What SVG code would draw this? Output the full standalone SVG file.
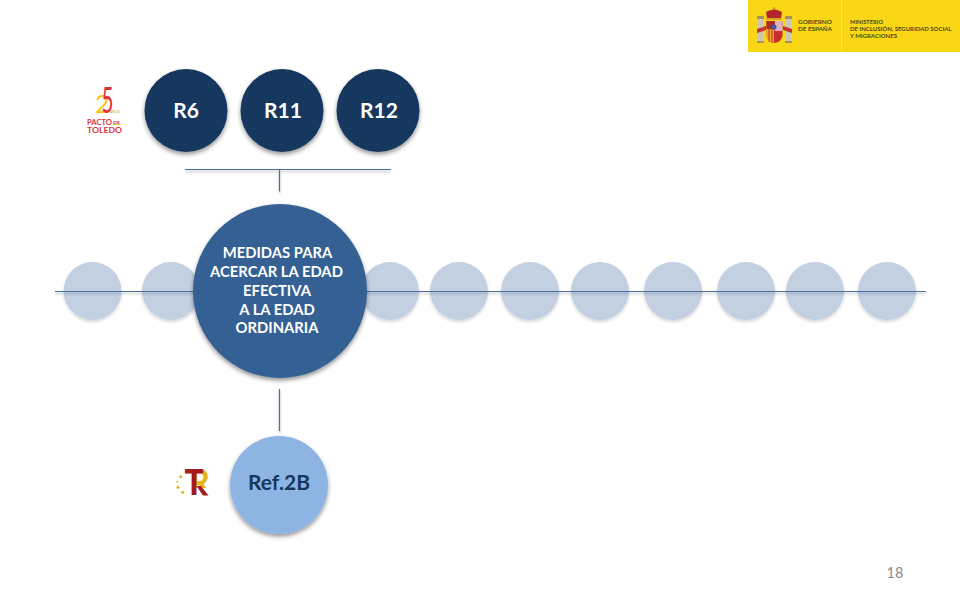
<svg xmlns="http://www.w3.org/2000/svg" width="960" height="600" viewBox="0 0 960 600">
<defs>
<filter id="sh" x="-20%" y="-20%" width="140%" height="140%"><feDropShadow dx="0" dy="2.500" stdDeviation="2" flood-color="#000" flood-opacity="0.42"/></filter>
<filter id="shs" x="-20%" y="-20%" width="140%" height="140%"><feGaussianBlur in="SourceAlpha" stdDeviation="1.500"/><feOffset dy="2"/><feComponentTransfer><feFuncA type="linear" slope="0.16"/></feComponentTransfer><feMerge><feMergeNode/><feMergeNode in="SourceGraphic"/></feMerge><feGaussianBlur stdDeviation="0.600"/></filter>
<filter id="ln" filterUnits="userSpaceOnUse" x="40" y="150" width="900" height="290"><feDropShadow dx="0" dy="2" stdDeviation="1.200" flood-color="#000" flood-opacity="0.28"/></filter>
<clipPath id="rc"><rect x="190" y="465" width="20" height="23"/></clipPath>
</defs>
<style>
text{font-family:Lato,"Liberation Sans",Arial,sans-serif}
.s{fill:#c3d0e2;filter:url(#shs)}
.d{fill:#17375e;filter:url(#sh)}
.c{font-weight:700;font-size:21px;fill:#fff;text-anchor:middle}
.m{font-weight:700;font-size:14.800px;fill:#fff;text-anchor:middle}
.l{stroke:#4a6f9f;stroke-width:1.200;fill:none;filter:url(#ln)}
.g{font-size:6px;fill:#4f4a20;font-weight:700}
.p{font-weight:700;fill:#d8343f}
</style>
<rect width="960" height="600" fill="#fff"/>
<g id="logo-gobierno">
<rect x="748" y="0" width="212" height="52" fill="#f9d616"/>
<rect x="841" y="0" width="1" height="52" fill="#fbe25c"/>
<rect x="758" y="19" width="5" height="23" fill="#c9c6b4"/>
<rect x="786" y="19" width="5" height="23" fill="#c9c6b4"/>
<rect x="757" y="16" width="7" height="3" fill="#a8935a"/>
<rect x="785" y="16" width="7" height="3" fill="#a8935a"/>
<rect x="757" y="41" width="7" height="2" fill="#a8935a"/>
<rect x="785" y="41" width="7" height="2" fill="#a8935a"/>
<path d="M757 29 L766 26 V30 L757 33Z M792 29 L783 26 V30 L792 33Z" fill="#c8312b"/>
<circle cx="774" cy="8.500" r="1.500" fill="#c9a227"/>
<path d="M766 12 Q774 7 782 12 L781 18 H767Z" fill="#b3262b"/>
<rect x="766" y="18" width="16" height="2" fill="#d9a521"/>
<path d="M766.500 21 H782.500 V36 Q781 42 774.500 43 Q768 42 766.500 36Z" fill="#c8312b"/>
<rect x="775" y="21" width="7.500" height="10" fill="#dcb0c0"/>
<rect x="766.500" y="21" width="8" height="8" fill="#a82a2a"/>
<path d="M766.500 29 H774 V42.500 Q768 42 766.500 36Z" fill="#e3a92a"/>
<path d="M769 29 V42 M772 29 V42.500" stroke="#c8312b" stroke-width="1"/>
<circle cx="774" cy="27" r="2.500" fill="#3a5a9a"/>
<text class="g" x="798" y="24" textLength="34" lengthAdjust="spacingAndGlyphs">GOBIERNO</text>
<text class="g" x="798" y="31" textLength="34" lengthAdjust="spacingAndGlyphs">DE ESPAÑA</text>
<text class="g" x="850" y="24" textLength="33" lengthAdjust="spacingAndGlyphs">MINISTERIO</text>
<text class="g" x="850" y="31" textLength="101.500" lengthAdjust="spacingAndGlyphs">DE INCLUSIÓN, SEGURIDAD SOCIAL</text>
<text class="g" x="850" y="38" textLength="47" lengthAdjust="spacingAndGlyphs">Y MIGRACIONES</text>
</g>
<g id="logo-pacto">
<text x="95" y="113" font-size="25" font-weight="400" fill="#f2c81e">2</text>
<text x="101.500" y="113" font-size="37" font-weight="400" fill="#e2303c" textLength="12" lengthAdjust="spacingAndGlyphs">5</text>
<text x="110" y="113" font-size="3.500" fill="#c9a227">AÑOS</text>
<text class="p" x="87" y="125" font-size="7.500" textLength="25" lengthAdjust="spacingAndGlyphs">PACTO</text>
<text class="p" x="113" y="123.500" font-size="4" textLength="7" lengthAdjust="spacingAndGlyphs">DE</text>
<rect x="113" y="124" width="7.500" height="1" fill="#f2c81e"/>
<text class="p" x="87" y="132.500" font-size="7.500" textLength="35" lengthAdjust="spacingAndGlyphs">TOLEDO</text>
</g>
<g id="logo-tr">
<text x="190.500" y="495" font-size="36" font-weight="900" fill="#e3b620" textLength="19" lengthAdjust="spacingAndGlyphs" clip-path="url(#rc)">R</text>
<text x="184.500" y="495" font-size="36" font-weight="900" fill="#a5191f" textLength="19" lengthAdjust="spacingAndGlyphs">T</text>
<path d="M196.500 486 H201 L208.500 495.500 H203Z" fill="#a5191f"/>
<g fill="#e3b620"><circle cx="180.700" cy="476.700" r="1.500"/><circle cx="177.300" cy="481.700" r="1"/><circle cx="178" cy="487.300" r="1.500"/><circle cx="182.700" cy="492.300" r="1.500"/></g>
</g>
<g id="n-small">
<circle class="s" cx="92.500" cy="291" r="29"/>
<circle class="s" cx="171" cy="291" r="29"/>
<circle class="s" cx="390" cy="291" r="29"/>
<circle class="s" cx="459" cy="291" r="29"/>
<circle class="s" cx="530" cy="291" r="29"/>
<circle class="s" cx="600" cy="291" r="29"/>
<circle class="s" cx="673" cy="291" r="29"/>
<circle class="s" cx="746" cy="291" r="29"/>
<circle class="s" cx="815" cy="291" r="29"/>
<circle class="s" cx="887" cy="291" r="29"/>
</g>
<g id="connectors">
<line class="l" x1="55" y1="291.500" x2="926" y2="291.500"/>
<line class="l" x1="185" y1="169.500" x2="391" y2="169.500"/>
<line class="l" x1="279.500" y1="170" x2="279.500" y2="191.500"/>
<line class="l" x1="279.500" y1="389" x2="279.500" y2="431"/>
</g>
<g id="n-r6"><circle class="d" cx="186" cy="110.500" r="41.500"/><text class="c" x="186" y="118">R6</text></g>
<g id="n-r11"><circle class="d" cx="282" cy="110.500" r="41.500"/><text class="c" x="283" y="118">R11</text></g>
<g id="n-r12"><circle class="d" cx="378" cy="110.500" r="41.500"/><text class="c" x="379" y="118">R12</text></g>
<g id="n-main"><circle cx="280" cy="291" r="87" fill="#356094" filter="url(#sh)"/>
<text class="m" x="277.500" y="258">MEDIDAS PARA</text>
<text class="m" x="276.500" y="277">ACERCAR LA EDAD</text>
<text class="m" x="277" y="296">EFECTIVA</text>
<text class="m" x="277" y="315">A LA EDAD</text>
<text class="m" x="277" y="333">ORDINARIA</text>
</g>
<g id="n-ref2b"><circle cx="279" cy="485" r="49" fill="#8eb4e3" filter="url(#sh)"/><text x="279" y="490" font-size="21" font-weight="700" fill="#17375e" text-anchor="middle">Ref.2B</text></g>
<text x="895" y="578" font-size="14.500" fill="#8b8b8b" text-anchor="middle">18</text>
</svg>
